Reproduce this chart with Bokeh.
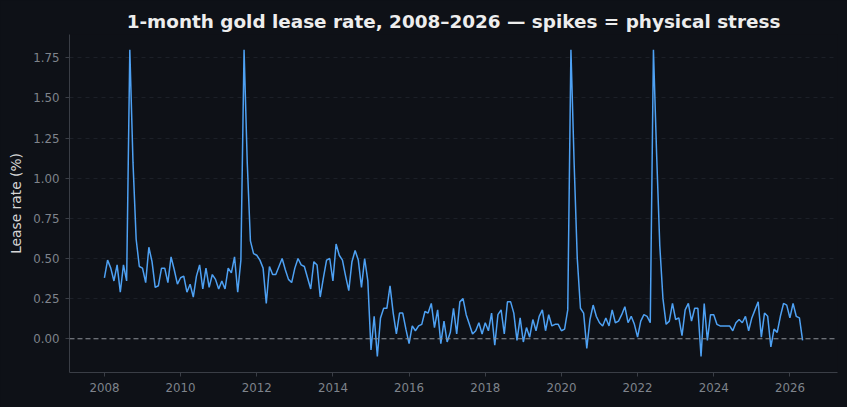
import pandas as pd
from bokeh.plotting import figure
from bokeh.models import Range1d, Span, FixedTicker, NumeralTickFormatter, ColumnDataSource
from bokeh.embed import file_html
from bokeh.resources import INLINE

# Monthly observations, Jan 2008 onward
start_month = "2008-01-01"
lease_rate = [
    0.38, 0.49, 0.44, 0.36, 0.46, 0.29, 0.46, 0.36, 1.80, 1.10,
    0.62, 0.45, 0.44, 0.35, 0.57, 0.48, 0.32, 0.33, 0.44, 0.44,
    0.35, 0.51, 0.43, 0.34, 0.38, 0.39, 0.29, 0.34, 0.26, 0.39,
    0.46, 0.31, 0.44, 0.32, 0.40, 0.37, 0.31, 0.36, 0.31, 0.44,
    0.41, 0.51, 0.29, 0.49, 1.80, 1.10, 0.61, 0.53, 0.52, 0.49,
    0.44, 0.22, 0.45, 0.40, 0.40, 0.45, 0.50, 0.43, 0.37, 0.35,
    0.44, 0.50, 0.46, 0.45, 0.38, 0.31, 0.48, 0.46, 0.26, 0.38,
    0.49, 0.50, 0.36, 0.59, 0.52, 0.49, 0.39, 0.30, 0.48, 0.55,
    0.49, 0.32, 0.50, 0.36, -0.07, 0.14, -0.11, 0.13, 0.19, 0.19,
    0.33, 0.16, 0.03, 0.16, 0.16, 0.06, -0.03, 0.08, 0.05, 0.08,
    0.09, 0.17, 0.16, 0.22, 0.07, 0.18, -0.03, 0.11, -0.02, 0.04,
    0.19, 0.03, 0.23, 0.25, 0.15, 0.09, 0.03, 0.05, 0.10, 0.03,
    0.10, 0.05, 0.16, -0.04, 0.15, 0.18, 0.03, 0.23, 0.23, 0.16,
    -0.01, 0.13, -0.02, 0.07, 0.01, 0.12, 0.05, 0.14, 0.18, 0.05,
    0.15, 0.08, 0.09, 0.09, 0.05, 0.06, 0.18, 1.80, 1.10, 0.50,
    0.19, 0.16, -0.06, 0.12, 0.21, 0.14, 0.10, 0.08, 0.13, 0.08,
    0.18, 0.10, 0.11, 0.15, 0.20, 0.10, 0.14, 0.09, 0.01, 0.11,
    0.15, 0.14, 0.10, 1.80, 1.15, 0.58, 0.25, 0.09, 0.11, 0.22,
    0.12, 0.13, 0.02, 0.18, 0.22, 0.11, 0.19, 0.19, -0.11, 0.22,
    -0.01, 0.15, 0.15, 0.09, 0.08, 0.08, 0.08, 0.08, 0.05, 0.10,
    0.12, 0.10, 0.14, 0.05, 0.13, 0.18, 0.23, 0.01, 0.16, 0.14,
    -0.05, 0.06, 0.04, 0.14, 0.22, 0.21, 0.13, 0.22, 0.14, 0.13,
    -0.01,
]
year_ticks = [2008, 2010, 2012, 2014, 2016, 2018, 2020, 2022, 2024, 2026]
rate_ticks = [0.0, 0.25, 0.5, 0.75, 1.0, 1.25, 1.5, 1.75]

months = pd.date_range(start_month, periods=len(lease_rate), freq="MS")
dec_year = months.year + (months.month - 1) / 12.0
source = ColumnDataSource(dict(x=list(dec_year), y=lease_rate))

BG = "#0E1117"
p = figure(
    width=847, height=407, output_backend="svg", toolbar_location=None,
    x_range=Range1d(2007.083, 2027.25), y_range=Range1d(-0.21, 1.895),
    title="1-month gold lease rate, 2008\u20132026 \u2014 spikes = physical stress",
)
p.styles = {"background-color": BG}
p.min_border_left = 69
p.min_border_right = 10
p.min_border_top = 34
p.min_border_bottom = 35
p.background_fill_color = BG
p.border_fill_color = BG
p.outline_line_color = None

p.title.align = "center"
p.title.text_color = "#EDEDED"
p.title.text_font = "DejaVu Sans"
p.title.text_font_size = "18.4px"
p.title.text_font_style = "bold"
p.title.standoff = 6

p.xaxis.ticker = FixedTicker(ticks=year_ticks)
p.yaxis.ticker = FixedTicker(ticks=rate_ticks)
p.yaxis.formatter = NumeralTickFormatter(format="0.00")
for ax in (p.xaxis[0], p.yaxis[0]):
    ax.axis_line_color = "#3A3E46"
    ax.major_tick_line_color = "#3A3E46"
    ax.minor_tick_line_color = None
    ax.major_tick_out = 4
    ax.major_tick_in = 0
    ax.major_label_text_color = "#7F848C"
    ax.major_label_text_font = "DejaVu Sans"
    ax.major_label_text_font_size = "11.8px"
    ax.major_label_standoff = 6
p.yaxis.axis_label = "Lease rate (%)"
p.yaxis.axis_label_text_color = "#D6D6D6"
p.yaxis.axis_label_text_font = "DejaVu Sans"
p.yaxis.axis_label_text_font_size = "13.8px"
p.yaxis.axis_label_text_font_style = "normal"
p.yaxis.axis_label_standoff = 6

p.xgrid.grid_line_color = None
p.ygrid.grid_line_color = "#262B33"
p.ygrid.grid_line_dash = "4 4"
p.ygrid.grid_line_alpha = 0.6

p.add_layout(Span(location=0, dimension="width", line_color="#8A8E95",
                  line_dash="5 3", line_width=1))

p.line("x", "y", source=source, line_color="#4EA1F3", line_width=1.5)

open("out.html", "w").write(file_html(p, INLINE))
